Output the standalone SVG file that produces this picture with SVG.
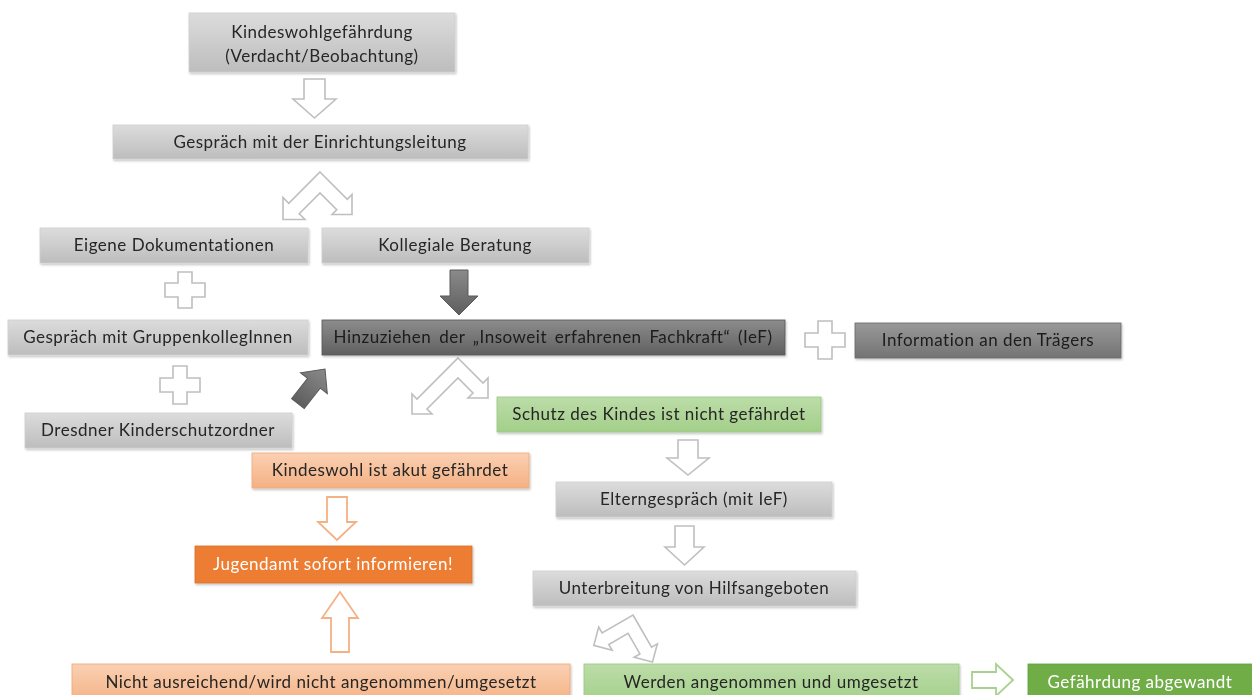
<svg xmlns="http://www.w3.org/2000/svg" width="1252" height="695" viewBox="0 0 1252 695">
<defs>
<linearGradient id="gGray" x1="0" y1="0" x2="0" y2="1"><stop offset="0" stop-color="#dcdcdc"/><stop offset="1" stop-color="#bdbdbd"/></linearGradient>
<linearGradient id="gDark" x1="0" y1="0" x2="0" y2="1"><stop offset="0" stop-color="#8c8c8c"/><stop offset="1" stop-color="#606060"/></linearGradient>
<linearGradient id="gMid" x1="0" y1="0" x2="0" y2="1"><stop offset="0" stop-color="#999999"/><stop offset="1" stop-color="#737373"/></linearGradient>
<linearGradient id="gLGreen" x1="0" y1="0" x2="0" y2="1"><stop offset="0" stop-color="#bcdca8"/><stop offset="1" stop-color="#a3cf89"/></linearGradient>
<linearGradient id="gSalmon" x1="0" y1="0" x2="0" y2="1"><stop offset="0" stop-color="#fad0b3"/><stop offset="1" stop-color="#f4b183"/></linearGradient>
<linearGradient id="gArrowDark" x1="0" y1="0" x2="0" y2="1"><stop offset="0" stop-color="#8a8a8a"/><stop offset="1" stop-color="#5e5e5e"/></linearGradient>
<filter id="sh" x="-5%" y="-20%" width="110%" height="150%"><feDropShadow dx="1" dy="1.5" stdDeviation="1" flood-color="#000" flood-opacity="0.25"/></filter>
</defs>
<style>
.box{filter:url(#sh);}
.gray{fill:url(#gGray);stroke:#cfcfcf;stroke-width:0.8;}
.dark{fill:url(#gDark);stroke:#555;stroke-width:0.8;}
.mid{fill:url(#gMid);stroke:#666;stroke-width:0.8;}
.lgreen{fill:url(#gLGreen);stroke:#9cc783;stroke-width:0.8;}
.salmon{fill:url(#gSalmon);stroke:#f0a878;stroke-width:0.8;}
.orange{fill:#ed7d31;stroke:#d8722c;stroke-width:0.8;}
.green{fill:#70ad47;stroke:#64a03f;stroke-width:0.8;}
text{font-family:Lato,"Liberation Sans",sans-serif;font-size:17px;letter-spacing:0.5px;fill:#262626;text-anchor:middle;}
text.w{fill:#ffffff;}
.ol{fill:#ffffff;stroke:#bfbfbf;stroke-width:1.6;stroke-linejoin:miter;}
.olo{fill:#ffffff;stroke:#f4b183;stroke-width:1.8;}
.olg{fill:#ffffff;stroke:#a9d18e;stroke-width:1.8;}
.dk{fill:url(#gArrowDark);stroke:#5a5a5a;stroke-width:1;}
</style>

<g id="connectors">
  <path class="ol" d="M304,79 H325 V99 H336 L314.5,118 L293,99 H304 Z"/>
  <path class="ol" transform="translate(320,172)" d="M0,0 L27.25,27.25 L32,22.5 L32,42.5 L12,42.5 L16.75,37.75 L0,21 L-20.75,41.75 L-15,47.5 L-37,47.5 L-37,25.5 L-31.25,31.25 Z"/>
  <path class="ol" transform="translate(185,290)" d="M-7,-18 H7 V-7 H20 V7 H7 V18 H-7 V7 H-20 V-7 H-7 Z"/>
  <path class="ol" transform="translate(180,385)" d="M-7,-19 H7 V-7 H20 V7 H7 V19 H-7 V7 H-20 V-7 H-7 Z"/>
  <path class="ol" transform="translate(825,340)" d="M-7,-19 H7 V-7 H20 V7 H7 V19 H-7 V7 H-20 V-7 H-7 Z"/>
  <path class="dk" d="M450,270 H468 V296 H478 L459,315 L440,296 H450 Z"/>
  <path class="dk" transform="translate(325,369) rotate(38)" d="M0,0 L17,18 H8 V44 H-8 V18 H-17 Z"/>
  <path class="ol" transform="translate(458,358)" d="M0,0 L25,25 L30,20 L30,40 L10,40 L15,35 L0,20 L-31,51 L-26,56 L-46,56 L-46,36 L-41,41 Z"/>
  <path class="ol" d="M678,440 H698 V458 H709 L688,475 L667,458 H678 Z"/>
  <path class="ol" d="M675,526 H694 V547 H704 L684.5,565 L665,547 H675 Z"/>
  <path class="olo" d="M327,497 H347 V522 H356 L337,540 L318,522 H327 Z"/>
  <path class="olo" d="M340,592 L358,618 H349 V652 H331 V618 H322 Z"/>
  <path class="ol" transform="translate(633,615) rotate(15)" d="M0,0 L26.25,26.25 L31,21.5 L31,40.5 L12,40.5 L16.75,35.75 L0,19 L-15.75,34.75 L-11,39.5 L-30,39.5 L-30,20.5 L-25.25,25.25 Z"/>
  <path class="olg" d="M972,672 H996 V664 L1013,680 L996,696 V688 H972 Z"/>
</g>

<g id="n1" class="box"><rect class="gray" x="189" y="13" width="266" height="59"/><text x="322" y="38">Kindeswohlgefährdung</text><text x="322" y="62">(Verdacht/Beobachtung)</text></g>
<g id="n2" class="box"><rect class="gray" x="113" y="125" width="415" height="34"/><text x="320" y="148">Gespräch mit der Einrichtungsleitung</text></g>
<g id="n3" class="box"><rect class="gray" x="40" y="228" width="268" height="35"/><text x="174" y="251">Eigene Dokumentationen</text></g>
<g id="n4" class="box"><rect class="gray" x="322" y="228" width="267" height="35"/><text x="455" y="251">Kollegiale Beratung</text></g>
<g id="n5" class="box"><rect class="gray" x="8" y="320" width="300" height="35"/><text x="158" y="343">Gespräch mit GruppenkollegInnen</text></g>
<g id="n6" class="box"><rect class="dark" x="322" y="320" width="463" height="35"/><text x="553" y="343" style="fill:#1c1c1c;word-spacing:3px">Hinzuziehen der „Insoweit erfahrenen Fachkraft“ (IeF)</text></g>
<g id="n7" class="box"><rect class="mid" x="855" y="323" width="266" height="35"/><text x="988" y="346" style="fill:#1c1c1c">Information an den Trägers</text></g>
<g id="n8" class="box"><rect class="gray" x="25" y="413" width="267" height="35"/><text x="158" y="436">Dresdner Kinderschutzordner</text></g>
<g id="n9" class="box"><rect class="lgreen" x="497" y="397" width="324" height="35"/><text x="659" y="420">Schutz des Kindes ist nicht gefährdet</text></g>
<g id="n10" class="box"><rect class="salmon" x="252" y="453" width="277" height="35"/><text x="390" y="476">Kindeswohl ist akut gefährdet</text></g>
<g id="n11" class="box"><rect class="gray" x="556" y="482" width="276" height="35"/><text x="694" y="505">Elterngespräch (mit IeF)</text></g>
<g id="n12" class="box"><rect class="orange" x="195" y="546" width="277" height="37"/><text class="w" x="333" y="570">Jugendamt sofort informieren!</text></g>
<g id="n13" class="box"><rect class="gray" x="533" y="571" width="323" height="35"/><text x="694" y="594">Unterbreitung von Hilfsangeboten</text></g>
<g id="n14" class="box"><rect class="salmon" x="72" y="664" width="498" height="40"/><text x="321" y="688">Nicht ausreichend/wird  nicht angenommen/umgesetzt</text></g>
<g id="n15" class="box"><rect class="lgreen" x="584" y="664" width="375" height="40"/><text x="771" y="688">Werden angenommen und umgesetzt</text></g>
<g id="n16" class="box"><rect class="green" x="1028" y="664" width="230" height="40"/><text class="w" x="1140" y="688">Gefährdung abgewandt</text></g>
</svg>
